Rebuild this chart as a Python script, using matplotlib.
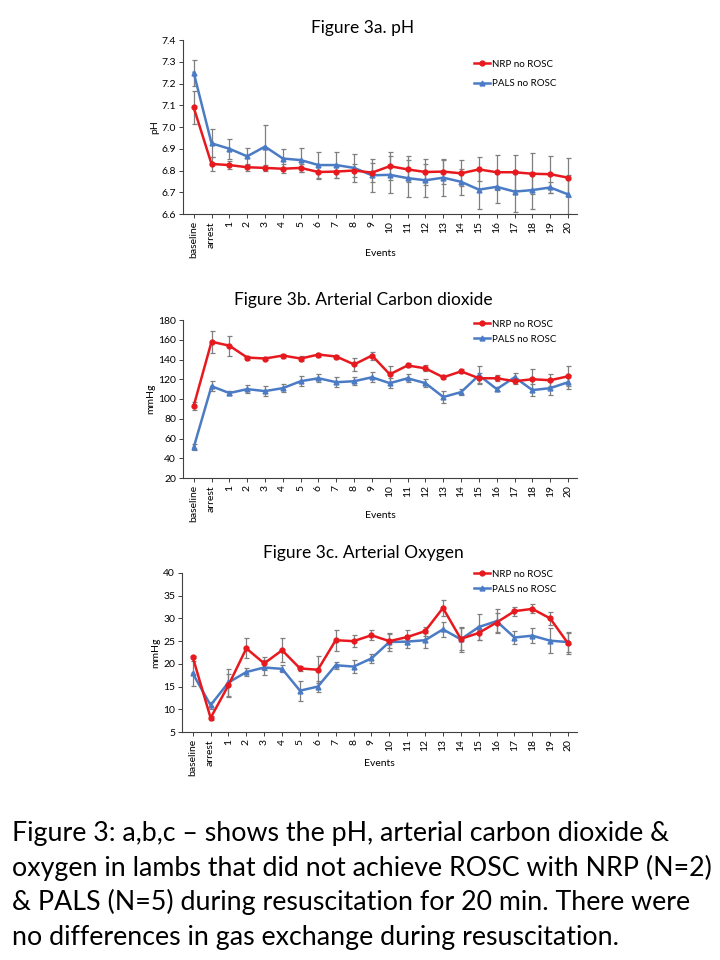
import matplotlib
matplotlib.use("Agg")
import matplotlib.pyplot as plt
import numpy as np

categories = ["baseline", "arrest"] + [str(i) for i in range(1, 21)]

ph_nrp = [7.09, 6.83, 6.825, 6.815, 6.812, 6.808, 6.812, 6.793, 6.795, 6.800, 6.790, 6.820,
          6.805, 6.793, 6.795, 6.787, 6.805, 6.792, 6.792, 6.785, 6.783, 6.767]
ph_nrp_err = [0.075, 0.03, 0.02, 0.015, 0.015, 0.02, 0.02, 0.03, 0.03, 0.03, 0.045, 0.065,
              0.06, 0.06, 0.055, 0.06, 0.055, 0.08, 0.08, 0.095, 0.085, 0.09]
ph_pals = [7.25, 6.925, 6.900, 6.865, 6.910, 6.855, 6.848, 6.825, 6.825, 6.812, 6.778, 6.780,
           6.765, 6.755, 6.767, 6.748, 6.712, 6.725, 6.703, 6.710, 6.722, 6.690]
ph_pals_err = [0.06, 0.065, 0.045, 0.04, 0.10, 0.045, 0.055, 0.06, 0.06, 0.065, 0.075, 0.085,
               0.085, 0.075, 0.085, 0.06, 0.09, 0.075, 0.095, 0.085, 0.025, 0.09]

co2_nrp = [93, 158, 154, 142, 141, 144, 141, 145, 143, 135, 144, 125,
           134, 131, 122, 128, 121, 121, 118, 120, 119, 123]
co2_nrp_err = [4, 11, 10, 2, 2, 2, 3, 2, 2, 7, 4, 8, 2, 3, 2, 2, 5, 3, 3, 10, 6, 10]
co2_pals = [51, 113, 106, 110, 108, 111, 118, 121, 117, 118, 122, 116,
            121, 116, 102, 107, 124, 110, 122, 109, 111, 117]
co2_pals_err = [3, 5, 2, 4, 5, 4, 5, 4, 5, 4, 5, 5, 4, 4, 6, 3, 9, 2, 4, 6, 7, 7]

o2_nrp = [21.5, 8.1, 15.3, 23.4, 20.1, 23.0, 19.0, 18.7, 25.2, 25.0, 26.3, 25.0,
          25.9, 27.2, 32.3, 25.5, 26.8, 29.1, 31.6, 32.1, 30.0, 24.5]
o2_nrp_err = [0.3, 0.5, 2.5, 2.2, 1.5, 2.7, 0.6, 3.0, 2.3, 1.3, 1.1, 1.5,
              1.5, 1.0, 1.8, 2.5, 1.5, 2.0, 1.0, 1.0, 1.5, 2.3]
o2_pals = [17.9, 10.9, 15.9, 18.2, 19.2, 18.9, 14.1, 15.0, 19.7, 19.4, 21.2, 24.8,
           24.9, 25.2, 27.6, 25.4, 28.1, 29.4, 25.8, 26.2, 25.1, 24.8]
o2_pals_err = [2.7, 0.8, 3.0, 0.8, 1.6, 0.8, 2.2, 1.3, 0.8, 1.5, 1.0, 1.9,
               1.5, 1.7, 1.6, 2.7, 2.9, 2.7, 1.5, 1.6, 2.7, 2.2]

panels = [
    ("Figure 3a. pH", "pH", ph_nrp, ph_nrp_err, ph_pals, ph_pals_err,
     (6.6, 7.4), np.arange(6.6, 7.41, 0.1), "{:.1f}"),
    ("Figure 3b. Arterial Carbon dioxide", "mmHg", co2_nrp, co2_nrp_err, co2_pals, co2_pals_err,
     (20, 180), np.arange(20, 181, 20), "{:.0f}"),
    ("Figure 3c. Arterial Oxygen", "mmHg", o2_nrp, o2_nrp_err, o2_pals, o2_pals_err,
     (5, 40), np.arange(5, 41, 5), "{:.0f}"),
]

plt.rcParams['font.family'] = ['Lato', 'DejaVu Sans']

fig = plt.figure(figsize=(7.2, 9.6), dpi=100)
fig.patch.set_facecolor("white")

W, H = 720.0, 960.0
boxes = [(183, 40, 577, 214), (183, 320, 577, 478), (182, 573, 577, 732)]
title_y = [28, 300, 553]
xlabel_y = [253, 515, 764]
legend_top = [56, 316, 566]
legend_sp = [1.05, 0.6, 0.6]

RED = "#E8191E"
BLUE = "#4A7BC4"
GREY = "#7F7F7F"

x = np.arange(len(categories))
for i, ((title, ylab, nrp, nrp_e, pals, pals_e, ylim, yt, fmt), (l, t, r, b)) in enumerate(zip(panels, boxes)):
    ax = fig.add_axes([l / W, 1 - b / H, (r - l) / W, (b - t) / H])
    ax.errorbar(x, pals, yerr=pals_e, fmt="none", ecolor=GREY, elinewidth=0.9, capsize=1.8,
                capthick=0.9, zorder=1)
    ax.errorbar(x, nrp, yerr=nrp_e, fmt="none", ecolor=GREY, elinewidth=0.9, capsize=1.8,
                capthick=0.9, zorder=1)
    ax.plot(x, nrp, color=RED, lw=1.8, marker="o", ms=3.5, label="NRP no ROSC", zorder=3)
    ax.plot(x, pals, color=BLUE, lw=1.8, marker="^", ms=3.5, label="PALS no ROSC", zorder=2)
    ax.set_xlim(-0.6, 21.5)
    ax.set_ylim(*ylim)
    ax.set_yticks(yt)
    ax.set_yticklabels([fmt.format(v) for v in yt], fontsize=7.5)
    ax.set_xticks(x)
    ax.set_xticklabels(categories, rotation=90, fontsize=7.5)
    ax.set_xlabel("Events", fontsize=7.5)
    hgt = b - t
    ax.xaxis.set_label_coords(0.5, -(xlabel_y[i] - b) / hgt)
    ax.xaxis.label.set_va("center")
    ax.set_ylabel(ylab, fontsize=7.5, labelpad=2)
    fig.text(363 / W, 1 - title_y[i] / H, title, fontsize=12.5, ha="center", va="center")
    for s in ["top", "right"]:
        ax.spines[s].set_visible(False)
    for s in ["left", "bottom"]:
        ax.spines[s].set_linewidth(0.8)
        ax.spines[s].set_color("#404040")
    ax.tick_params(axis="both", length=3, width=0.7, pad=2, colors="#404040", labelcolor="black")
    ax.legend(loc="upper right", frameon=False, fontsize=7, handlelength=1.6,
              handletextpad=0.2, borderaxespad=0.0, labelspacing=legend_sp[i],
              bbox_to_anchor=(560 / W, 1 - legend_top[i] / H), bbox_transform=fig.transFigure)

caption = ["Figure 3: a,b,c \u2013 shows the pH, arterial carbon dioxide &",
           "oxygen in lambs that did not achieve ROSC with NRP (N=2)",
           "& PALS (N=5) during resuscitation for 20 min. There were",
           "no differences in gas exchange during resuscitation."]
ys = [833, 868, 902, 937]
for line, yy in zip(caption, ys):
    fig.text(12 / W, 1 - yy / H, line, fontsize=19.3, va="center", ha="left", color="black")

fig.savefig("out.png", dpi=100, facecolor="white")
